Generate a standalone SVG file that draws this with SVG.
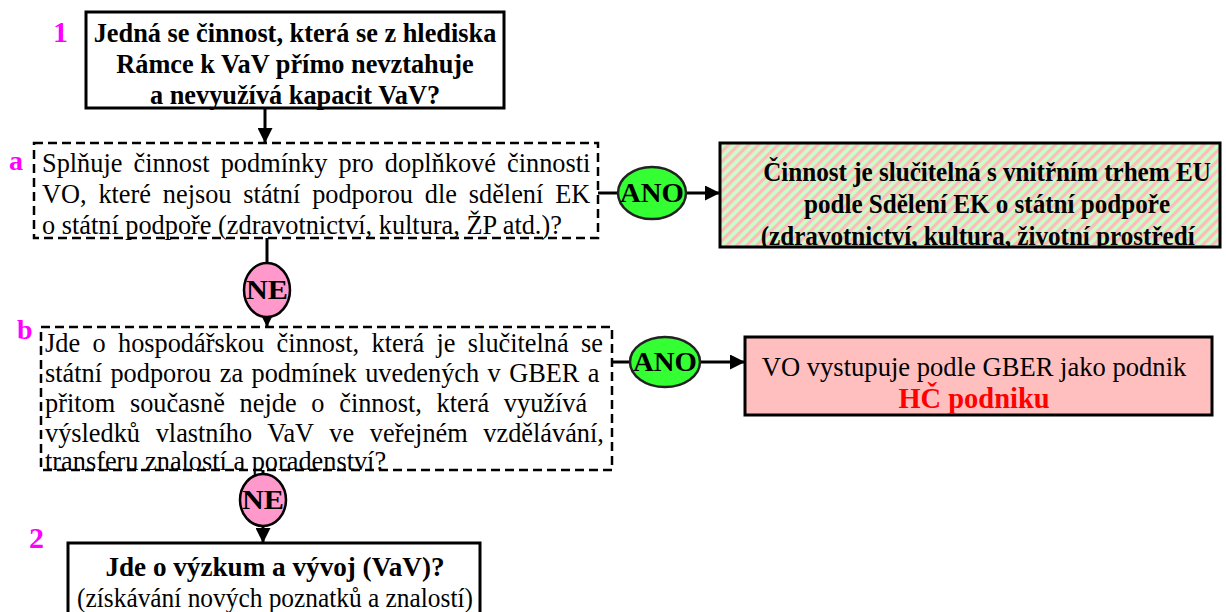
<svg xmlns="http://www.w3.org/2000/svg" width="1226" height="612" viewBox="0 0 1226 612">
<style>
text{font-family:"Liberation Serif","Times New Roman",serif;fill:#000}
.b{font-weight:bold}
.f28{font-size:28px}
.lbl{font-weight:bold;fill:#FF00FF}
.box{stroke:#000;stroke-width:3;fill:#fff}
.dash{stroke:#000;stroke-width:2.5;fill:#fff;stroke-dasharray:9 5}
.ano{fill:#33FF33;stroke:#222;stroke-width:2.5}
.ne{fill:#FF99CC;stroke:#000;stroke-width:2.5}
.con{stroke:#000;stroke-width:3;fill:none}
.mid{text-anchor:middle}
</style>
<defs>
<marker id="ah" viewBox="0 0 10 10" refX="10" refY="5" markerWidth="5" markerHeight="5" markerUnits="strokeWidth" orient="auto">
<path d="M0,0 L10,5 L0,10 z" fill="#000"/>
</marker>
<pattern id="stripes" width="7" height="7" patternUnits="userSpaceOnUse" patternTransform="rotate(45)">
<rect width="7" height="7" fill="#C8FFC8"/>
<rect width="3.3" height="7" fill="#FFBBBB"/>
</pattern>
<clipPath id="clipG"><rect x="720" y="143" width="500" height="104"/></clipPath>
</defs>

<g id="connectors">
<line class="con" x1="265" y1="108" x2="265" y2="143" marker-end="url(#ah)"/>
<line class="con" x1="267" y1="238" x2="267" y2="263"/>
<line class="con" x1="267" y1="316" x2="267" y2="327" marker-end="url(#ah)"/>
<line class="con" x1="598" y1="193" x2="619" y2="193"/>
<line class="con" x1="686" y1="193" x2="720" y2="193" marker-end="url(#ah)"/>
<line class="con" x1="612" y1="362" x2="630" y2="362"/>
<line class="con" x1="700" y1="362" x2="745" y2="362" marker-end="url(#ah)"/>
<line class="con" x1="263" y1="470" x2="263" y2="474"/>
<line class="con" x1="263" y1="526" x2="263" y2="543" marker-end="url(#ah)"/>
</g>

<g id="node1">
<text class="lbl" x="53" y="42" style="font-size:30px">1</text>
<rect class="box" x="86" y="12" width="418" height="96"/>
<g transform="translate(295 0) scale(0.94 1)">
<text class="b f28 mid" x="0" y="42">Jedná se činnost, která se z hlediska</text>
<text class="b f28 mid" x="0" y="73">Rámce k VaV přímo nevztahuje</text>
<text class="b f28 mid" x="0" y="104">a nevyužívá kapacit VaV?</text>
</g>
</g>

<g id="nodeA">
<text class="lbl" x="9" y="170" style="font-size:28px">a</text>
<rect class="dash" x="34" y="143" width="564" height="95"/>
<g transform="translate(42 0) scale(0.94 1)">
<text class="f28" x="0" y="172" style="word-spacing:4.9px">Splňuje činnost podmínky pro doplňkové činnosti</text>
<text class="f28" x="0" y="203" style="word-spacing:5.6px">VO, které nejsou státní podporou dle sdělení EK</text>
<text class="f28" x="0" y="234">o státní podpoře (zdravotnictví, kultura, ŽP atd.)?</text>
</g>
</g>

<g id="ano1">
<ellipse class="ano" cx="652" cy="193" rx="34" ry="26"/>
<text class="b mid" x="652" y="202" style="font-size:27px" textLength="64" lengthAdjust="spacingAndGlyphs">ANO</text>
</g>

<g id="nodeGreen">
<rect x="720" y="143" width="500" height="104" fill="url(#stripes)" stroke="#000" stroke-width="3"/>
<g clip-path="url(#clipG)">
<g transform="translate(987 0) scale(0.93 1)">
<text class="b mid" style="font-size:27px" x="0" y="181">Činnost je slučitelná s vnitřním trhem EU</text>
<text class="b mid" style="font-size:27px" x="0" y="213">podle Sdělení EK o státní podpoře</text>
<text class="b mid" style="font-size:27px" x="-10" y="245">(zdravotnictví, kultura, životní prostředí</text>
</g>
</g>
</g>

<g id="ne1">
<ellipse class="ne" cx="267" cy="290" rx="23" ry="27"/>
<text class="b mid" x="267" y="299" style="font-size:27px" textLength="42" lengthAdjust="spacingAndGlyphs">NE</text>
</g>

<g id="nodeB">
<text class="lbl" x="17" y="339" style="font-size:28px">b</text>
<rect class="dash" x="41" y="327" width="571" height="143"/>
<g transform="translate(45 0) scale(0.94 1)">
<text class="f28" x="0" y="352" style="word-spacing:6.2px">Jde o hospodářskou činnost, která je slučitelná se</text>
<text class="f28" x="0" y="382" style="word-spacing:2px">státní podporou za podmínek uvedených v GBER a</text>
<text class="f28" x="0" y="412" style="word-spacing:8.7px">přitom současně nejde o činnost, která využívá</text>
<text class="f28" x="0" y="442" style="word-spacing:9.7px">výsledků vlastního VaV ve veřejném vzdělávání,</text>
<text class="f28" x="0" y="470">transferu znalostí a poradenství?</text>
</g>
</g>

<g id="ano2">
<ellipse class="ano" cx="665" cy="362" rx="35" ry="25"/>
<text class="b mid" x="665" y="371" style="font-size:27px" textLength="64" lengthAdjust="spacingAndGlyphs">ANO</text>
</g>

<g id="nodePink">
<rect x="745" y="337" width="467" height="78" fill="#FFBFBF" stroke="#000" stroke-width="3"/>
<g transform="translate(974 0) scale(0.95 1)">
<text class="f28 mid" x="0" y="376">VO vystupuje podle GBER jako podnik</text>
<text class="b mid" x="0" y="408" style="font-size:30px;fill:#FF0000">HČ podniku</text>
</g>
</g>

<g id="ne2">
<ellipse class="ne" cx="263" cy="500" rx="23" ry="26"/>
<text class="b mid" x="263" y="509" style="font-size:27px" textLength="42" lengthAdjust="spacingAndGlyphs">NE</text>
</g>

<g id="node2">
<text class="lbl" x="29" y="548" style="font-size:30px">2</text>
<rect class="box" x="68" y="543" width="412" height="80"/>
<g transform="translate(275 0) scale(0.97 1)">
<text class="b f28 mid" x="0" y="576">Jde o výzkum a vývoj (VaV)?</text>
</g>
<g transform="translate(275 0) scale(0.94 1)">
<text class="mid" style="font-size:27px" x="0" y="607">(získávání nových poznatků a znalostí)</text>
</g>
</g>
</svg>
